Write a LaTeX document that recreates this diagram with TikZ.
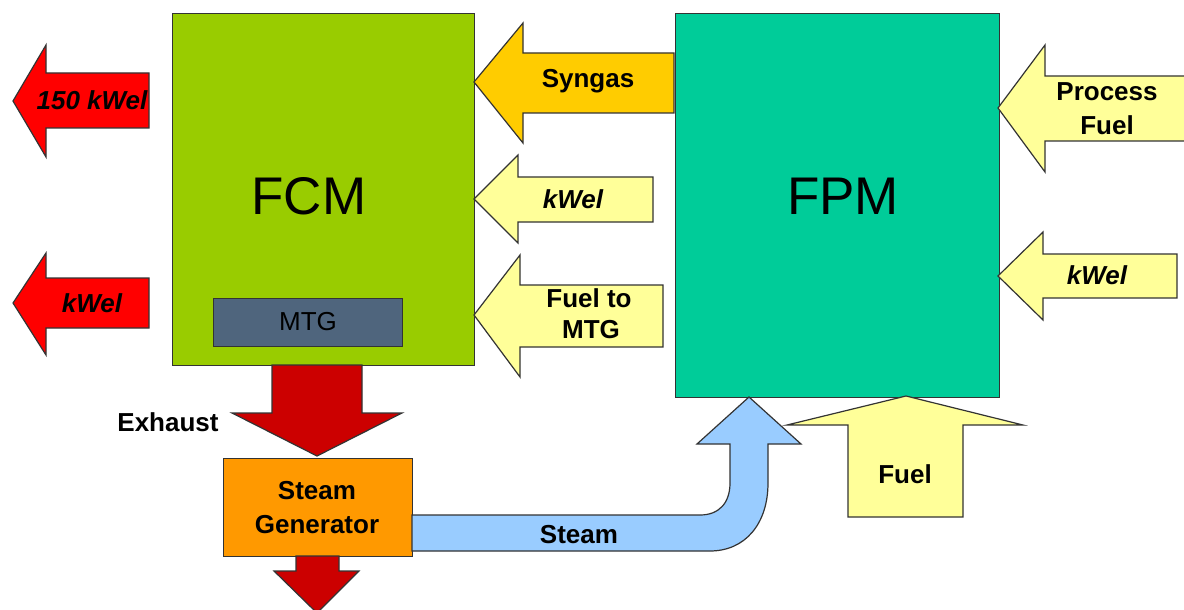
\documentclass[tikz,border=0pt]{standalone}
\usepackage{fontspec}
\setmainfont{Liberation Sans}
\definecolor{fcmgreen}{HTML}{99CC00}
\definecolor{fpmgreen}{HTML}{00CC99}
\definecolor{syngas}{HTML}{FFCC00}
\definecolor{paleyel}{HTML}{FFFF99}
\definecolor{elred}{HTML}{FF0000}
\definecolor{exred}{HTML}{CC0000}
\definecolor{sgorange}{HTML}{FF9900}
\definecolor{mtgslate}{HTML}{4F657D}
\definecolor{steamblue}{HTML}{99CCFF}
\newcommand\larrow[9]{% fill, tipx, tipy, headx, headtop, headbot, shafttop, shaftbot, endx
  \draw[outl,fill=#1] (#2,#3) -- (#4,#5) -- (#4,#7) -- (#9,#7) -- (#9,#8) -- (#4,#8) -- (#4,#6) -- cycle;}
\begin{document}
\begin{tikzpicture}[x=0.5pt,y=-0.5pt,
  outl/.style={draw=black!80,line width=0.6pt,line join=miter},
  box/.style={outl,rectangle,inner sep=0pt,anchor=north west},
  lbl/.style={font=\fontsize{13}{16}\selectfont\bfseries,anchor=base,inner sep=0pt},
  ilbl/.style={font=\fontsize{13}{16}\selectfont\bfseries\itshape,anchor=base,inner sep=0pt},
  rlbl/.style={font=\fontsize{13}{16}\selectfont,anchor=base,inner sep=0pt},
  big/.style={font=\fontsize{26.5}{30}\selectfont,anchor=base,inner sep=0pt}]
\useasboundingbox (0,0) rectangle (1184,610);
\clip (0,0) rectangle (1184,610);
\fill[white] (0,0) rectangle (1184,610);

% main boxes
\node[box,fill=fcmgreen,minimum width=151pt,minimum height=176pt] (fcm) at (172,13) {};
\node[box,fill=fpmgreen,minimum width=162pt,minimum height=192pt] (fpm) at (675,13) {};
\node[box,fill=mtgslate,minimum width=94.5pt,minimum height=24pt] (mtg) at (213,298) {};

\node[big] (fcmtxt) at (309,214) {FCM};
\node[big] (fpmtxt) at (843,214) {FPM};
\node[rlbl] (mtgtxt) at (308,330) {MTG};

% electricity out of FCM
\larrow{elred}{13}{101}{46}{45}{157}{73}{128}{149}
\node[ilbl] (out150) at (92,110) {150 kWel};
\larrow{elred}{13}{303}{46}{253}{355}{278}{328}{149}
\node[ilbl] (outkw) at (92,312) {kWel};

% inputs to FCM
\larrow{syngas}{474}{82}{523}{23}{143}{53}{113}{674}
\node[lbl] (syn) at (588,88) {Syngas};
\larrow{paleyel}{474}{199}{518}{155}{243}{177}{222}{653}
\node[ilbl] (fcmkw) at (573,208) {kWel};
\larrow{paleyel}{474}{315}{520}{255}{377}{285}{347}{663}
\node[lbl] (fmtg1) at (589,307) {Fuel to};
\node[lbl] (fmtg2) at (591,338) {MTG};

% inputs to FPM
\larrow{paleyel}{998}{108}{1045}{45}{172}{76}{141}{1190}
\node[lbl] (pf1) at (1107,101) {Process};
\node[lbl] (pf2) at (1107,135) {Fuel};
\larrow{paleyel}{998}{276}{1043}{232}{320}{254}{298}{1177}
\node[ilbl] (fpmkw) at (1097,285) {kWel};

% exhaust and steam generator
\draw[outl,fill=exred] (272,365) -- (272,413) -- (232,413) -- (317,456) -- (402,413) -- (362,413) -- (362,365) -- cycle;
\node[lbl] (exh) at (168,431) {Exhaust};
\node[box,fill=sgorange,minimum width=94.5pt,minimum height=49pt] (sg) at (223,458) {};
\node[lbl] (sg1) at (317,499) {Steam};
\node[lbl] (sg2) at (317,533) {Generator};
\draw[outl,fill=exred] (296,556) -- (296,571) -- (274,571) -- (317,613) -- (359,571) -- (339,571) -- (339,556) -- cycle;

% steam
\draw[outl,fill=steamblue] (412,515) -- (700,515) .. controls (719,515) and (730,503) .. (730,483)
  -- (730,444) -- (697,444) -- (749,397) -- (801,444) -- (768,444) -- (768,483)
  .. controls (768,524) and (745,551) .. (710,551) -- (412,551) -- cycle;
\node[lbl] (stm) at (579,543) {Steam};

% fuel into FPM
\draw[outl,fill=paleyel] (848,517) -- (848,425) -- (787,425) -- (906,396) -- (1023,425) -- (963,425) -- (963,517) -- cycle;
\node[lbl] (fuel) at (905,483) {Fuel};
\end{tikzpicture}
\end{document}
